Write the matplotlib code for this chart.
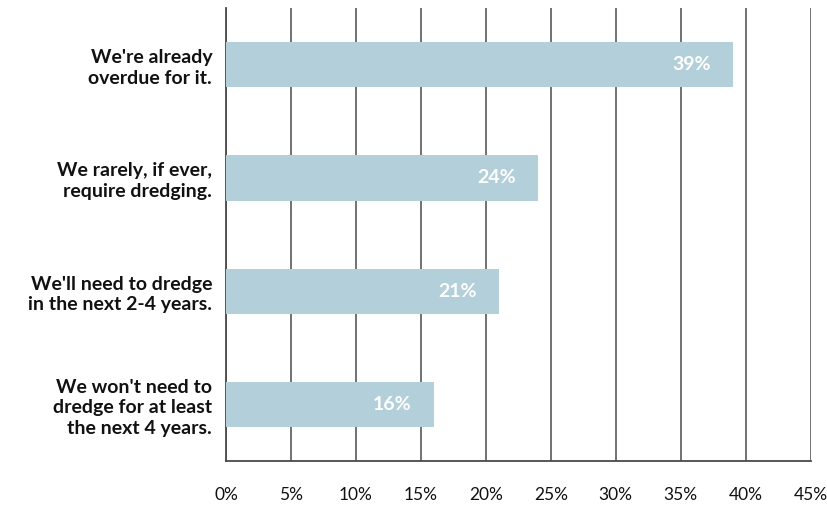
import matplotlib
matplotlib.use("Agg")
import matplotlib.pyplot as plt
from matplotlib.ticker import FuncFormatter
import matplotlib.transforms as mtransforms

categories = [
    "We're already\noverdue for it.",
    "We rarely, if ever,\nrequire dredging.",
    "We'll need to dredge\nin the next 2-4 years.",
    "We won't need to\ndredge for at least\nthe next 4 years.",
]
values = [39, 24, 21, 16]
x_ticks = [0, 5, 10, 15, 20, 25, 30, 35, 40, 45]

plt.rcParams["font.family"] = ["Lato", "DejaVu Sans"]

fig = plt.figure(figsize=(8.28, 5.08), dpi=100)
ax = fig.add_axes([0.273, 0.0925, 0.706, 0.8915])

ypos = list(range(len(categories)))
ax.barh(ypos, values, height=0.4, color="#b3cfd9", zorder=3)

ax.set_ylim(len(categories) - 0.5, -0.5)
ax.set_xlim(0, 45)
ax.set_xticks(x_ticks)
ax.xaxis.set_major_formatter(FuncFormatter(lambda v, p: f"{v:.0f}%"))
ax.tick_params(axis="x", length=0, pad=19, labelsize=12.5, colors="#111111")
ax.tick_params(axis="y", length=0, pad=10)
ax.set_yticks(ypos)
ax.set_yticklabels(categories, fontsize=14, fontweight="bold", color="#111111",
                   linespacing=1.25)

ax.grid(axis="x", color="#4a4a4a", linewidth=1.1, zorder=0)
ax.grid(axis="y", visible=False)
for side in ("top", "right"):
    ax.spines[side].set_visible(False)
for side in ("left", "bottom"):
    ax.spines[side].set_color("#4a4a4a")
    ax.spines[side].set_linewidth(1.3)

offset = mtransforms.offset_copy(ax.transData, fig=fig, x=-22, y=0, units="dots")
for y, v in zip(ypos, values):
    ax.text(v, y, f"{v}%", transform=offset, ha="right", va="center",
            color="white", fontsize=14, fontweight="bold", zorder=4)

fig.savefig("out.png", dpi=100)
